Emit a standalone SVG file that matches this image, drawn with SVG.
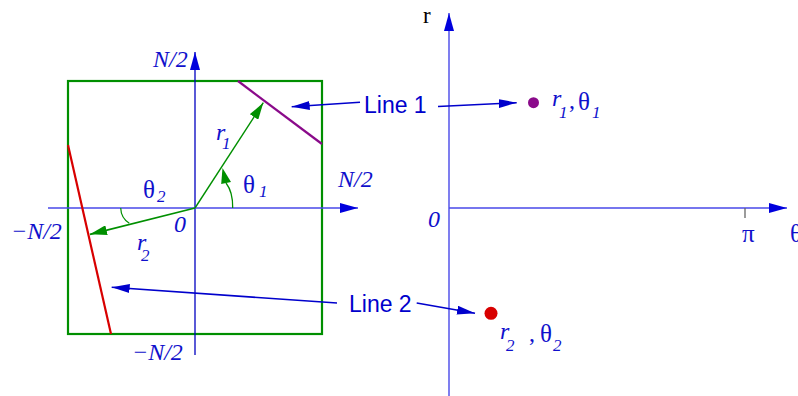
<svg xmlns="http://www.w3.org/2000/svg" width="798" height="396" viewBox="0 0 798 396">
<style>
.ser{font-family:"Liberation Serif","Times New Roman",serif;fill:#1010cc}
.it{font-style:italic}
.m{font-size:24px}
.th{font-size:25px}
.sub{font-size:17px;font-style:italic}
.sans{font-family:"Liberation Sans",Arial,sans-serif;font-size:23px;fill:#0000cc}
.ax{stroke:#4848e8;stroke-width:1.4;fill:none}
.ptr{stroke:#0000cc;stroke-width:1.6;fill:none}
.grn{stroke:#008f00;fill:none}
</style>
<defs>
<marker id="ah" markerUnits="userSpaceOnUse" markerWidth="19" markerHeight="10" refX="18" refY="5" orient="auto"><path d="M0,0 L18,5 L0,10 z" fill="#0000dd"/></marker>
<marker id="ap" markerUnits="userSpaceOnUse" markerWidth="19" markerHeight="9" refX="18" refY="4.5" orient="auto"><path d="M0,0 L18,4.5 L0,9 z" fill="#0000cc"/></marker>
<marker id="ag" markerUnits="userSpaceOnUse" markerWidth="18" markerHeight="10" refX="17" refY="5" orient="auto"><path d="M0,0 L17,5 L0,10 z" fill="#008f00"/></marker>
</defs>

<g id="image-space">
  <rect x="68" y="81" width="254" height="253" fill="none" stroke="#008f00" stroke-width="2.2"/>
  <line x1="195" y1="355" x2="195" y2="52" stroke="#0000c0" stroke-width="1.3" marker-end="url(#ah)"/>
  <line x1="48" y1="208" x2="358" y2="208" class="ax" marker-end="url(#ah)"/>
  <line x1="238" y1="81" x2="322" y2="144" stroke="#8a0a8a" stroke-width="2.2"/>
  <line x1="68" y1="145" x2="111" y2="334" stroke="#d80000" stroke-width="2.2"/>
  <line x1="195" y1="208" x2="263.3" y2="102.7" class="grn" stroke-width="1.4" marker-end="url(#ag)"/>
  <line x1="195" y1="208" x2="90" y2="234.3" class="grn" stroke-width="1.8" marker-end="url(#ag)"/>
  <path d="M232.7,208 Q233,192 226,183" class="grn" stroke-width="1.3"/>
  <polygon points="222.5,168 231,181.9 221.2,184.1" fill="#008f00"/>
  <path d="M120.7,208 Q121,218 129.3,223.3" class="grn" stroke-width="1.2"/>
  <text class="ser it m" x="153" y="67">N/2</text>
  <text class="ser it m" x="338" y="187">N/2</text>
  <text class="ser it m" x="11" y="239">−N/2</text>
  <text class="ser it m" x="132" y="360">−N/2</text>
  <text class="ser it m" x="174" y="232">0</text>
  <text class="ser th" x="143" y="198">θ<tspan class="sub" x="157" y="202">2</tspan></text>
  <text class="ser th" x="243" y="193">θ<tspan class="sub" x="259" y="197">1</tspan></text>
  <text class="ser it m" x="216" y="140">r<tspan class="sub" x="222" y="149">1</tspan></text>
  <text class="ser it m" x="137" y="250">r<tspan class="sub" x="141" y="261">2</tspan></text>
</g>

<g id="hough-space">
  <line x1="449" y1="396" x2="449" y2="13" class="ax" marker-end="url(#ah)"/>
  <line x1="449" y1="208" x2="787" y2="208" class="ax" marker-end="url(#ah)"/>
  <line x1="745" y1="208" x2="745" y2="218" stroke="#666" stroke-width="1.3"/>
  <text x="423" y="23" font-family="Liberation Serif, serif" font-size="23" fill="#000">r</text>
  <text class="ser it m" x="428" y="227">0</text>
  <text class="ser th" x="742" y="242">π</text>
  <text class="ser th" x="790" y="242">θ</text>
</g>

<g id="point-1">
  <circle cx="533.5" cy="102.7" r="5.5" fill="#8a0a8a"/>
  <text class="ser it m" x="552" y="106">r<tspan class="sub" x="559" y="118">1</tspan><tspan class="m" style="font-style:normal" x="569" y="108">,</tspan><tspan class="th" style="font-style:normal" x="578" y="110">θ</tspan><tspan class="sub" x="592" y="118">1</tspan></text>
</g>
<g id="point-2">
  <circle cx="491" cy="313.3" r="6.5" fill="#d80000"/>
  <text class="ser it m" x="500" y="339">r<tspan class="sub" x="506" y="351">2</tspan><tspan class="m" style="font-style:normal" x="529" y="341">,</tspan><tspan class="th" style="font-style:normal" x="540" y="342">θ</tspan><tspan class="sub" x="553" y="351">2</tspan></text>
</g>

<g id="label-line1"><text class="sans" x="364" y="113">Line 1</text></g>
<g id="label-line2"><text class="sans" x="349" y="312">Line 2</text></g>

<g id="connectors">
  <line x1="360" y1="102.3" x2="291.7" y2="106.7" class="ptr" marker-end="url(#ap)"/>
  <line x1="438" y1="106.5" x2="516.7" y2="102.7" class="ptr" marker-end="url(#ap)"/>
  <line x1="337" y1="303" x2="111.7" y2="287.3" class="ptr" marker-end="url(#ap)"/>
  <line x1="416.7" y1="303" x2="475" y2="313.3" class="ptr" marker-end="url(#ap)"/>
</g>
</svg>
